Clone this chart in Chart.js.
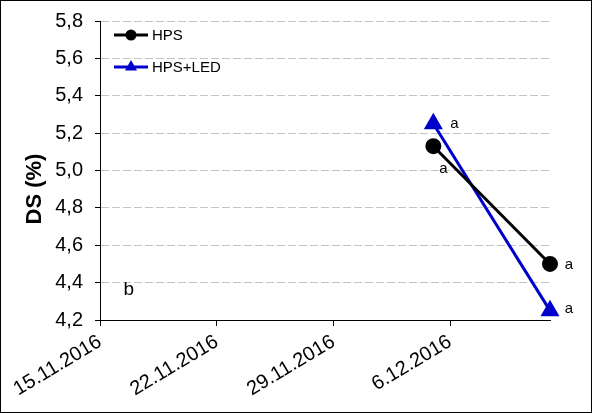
<!DOCTYPE html>
<html>
<head>
<meta charset="utf-8">
<script src="https://cdn.jsdelivr.net/npm/chart.js@4.4.0/dist/chart.umd.min.js"></script>
<style>
  body { margin: 0; background: #fff; }
  #frame { width: 592px; height: 413px; box-sizing: border-box; border: 1px solid #000; background: #fff; }
  canvas { display: block; }
</style>
</head>
<body>
<div id="frame"><canvas id="myChart" width="590" height="411"></canvas></div>
<script>
// sampling dates and measured values
const dates = ['5.12.2016', '12.12.2016'];
const hpsValues = [5.13, 4.50];
const hpsLedValues = [5.25, 4.25];
const hpsLetters = ['a', 'a'];
const hpsLedLetters = ['a', 'a'];

// axis ticks
const xTickLabels = ['15.11.2016', '22.11.2016', '29.11.2016', '6.12.2016'];
const xEndDate = '12.12.2016';
const yMin = 4.2;
const yMax = 5.8;
const yStep = 0.2;

// the lone letter in the lower left corner (date, value)
const extraLetter = { text: 'b', date: '16.11.2016', value: 4.36 };

const FONT = "'Liberation Sans', Arial, sans-serif";

// days since the first tick date
function dayIndex(str) {
  const p = str.split('.').map(Number);
  const first = xTickLabels[0].split('.').map(Number);
  return (Date.UTC(p[2], p[1] - 1, p[0]) - Date.UTC(first[2], first[1] - 1, first[0])) / 86400000;
}

// draws the marker shapes used in the chart and the legend
function drawMarker(ctx, style, x, y, r, color) {
  ctx.fillStyle = color;
  ctx.beginPath();
  if (style === 'triangle') {
    ctx.moveTo(x, y - r);
    ctx.lineTo(x + r * 0.866, y + r / 2);
    ctx.lineTo(x - r * 0.866, y + r / 2);
    ctx.closePath();
  } else {
    ctx.arc(x, y, r, 0, Math.PI * 2);
  }
  ctx.fill();
}

// legend, letters and axis title drawn on top of the chart
const extrasPlugin = {
  id: 'extras',
  afterDatasetsDraw(chart, args, opts) {
    const ctx = chart.ctx;
    ctx.save();

    // letters next to the points
    chart.data.datasets.forEach((ds, i) => {
      const meta = chart.getDatasetMeta(i);
      ctx.font = '15px ' + FONT;
      ctx.fillStyle = '#000';
      ctx.textAlign = 'center';
      ctx.textBaseline = 'middle';
      ds.letters.forEach((t, j) => {
        const pt = meta.data[j];
        const off = opts.letterOffsets[i][j];
        ctx.fillText(t, pt.x + off[0], pt.y + off[1]);
      });
    });

    const xs = chart.scales.x;
    const ys = chart.scales.y;
    ctx.font = '19px ' + FONT;
    ctx.fillText(extraLetter.text, xs.getPixelForValue(dayIndex(extraLetter.date)) + 12, ys.getPixelForValue(extraLetter.value));

    // legend inside the plot
    chart.data.datasets.forEach((ds, i) => {
      const y = opts.legendTop + i * opts.legendRow;
      const x0 = chart.chartArea.left + 14;
      ctx.strokeStyle = ds.borderColor;
      ctx.lineWidth = 3;
      ctx.beginPath();
      ctx.moveTo(x0, y);
      ctx.lineTo(x0 + 34, y);
      ctx.stroke();
      drawMarker(ctx, ds.pointStyle, x0 + 17, y, ds.pointStyle === 'triangle' ? 7 : 5.5, ds.borderColor);
      ctx.fillStyle = '#000';
      ctx.font = '15px ' + FONT;
      ctx.textAlign = 'left';
      ctx.fillText(ds.label, x0 + 38, y + 1);
    });

    // y axis title
    ctx.translate(34, 188);
    ctx.rotate(-Math.PI / 2);
    ctx.font = 'bold 22px ' + FONT;
    ctx.textAlign = 'center';
    ctx.fillText('DS (%)', 0, 0);
    ctx.restore();
  }
};

const chartData = {
  datasets: [
    {
      label: 'HPS',
      data: dates.map((d, i) => ({ x: dayIndex(d), y: hpsValues[i] })),
      letters: hpsLetters,
      borderColor: '#000000',
      backgroundColor: '#000000',
      borderWidth: 3,
      pointStyle: 'circle',
      pointRadius: 6.5,
      pointHoverRadius: 6.5,
      clip: false
    },
    {
      label: 'HPS+LED',
      data: dates.map((d, i) => ({ x: dayIndex(d), y: hpsLedValues[i] })),
      letters: hpsLedLetters,
      borderColor: '#0000cc',
      backgroundColor: '#0000cc',
      borderWidth: 3,
      pointStyle: 'triangle',
      pointRadius: 8,
      pointHoverRadius: 8,
      clip: false
    }
  ]
};

const config = {
  type: 'line',
  data: chartData,
  options: {
    responsive: false,
    animation: false,
    layout: { padding: { left: 0, right: 41, top: 20, bottom: 0 } },
    plugins: {
      legend: { display: false },
      tooltip: { enabled: false },
      extras: {
        letterOffsets: [[[10, 23], [19, 1]], [[21, 0], [19, -2]]],
        legendTop: 34,
        legendRow: 32
      }
    },
    scales: {
      x: {
        type: 'linear',
        min: 0,
        max: dayIndex(xEndDate),
        afterBuildTicks: scale => {
          scale.ticks = xTickLabels.map(l => ({ value: dayIndex(l) }));
        },
        afterFit: scale => { scale.height = 92; },
        ticks: {
          callback: (v, i) => xTickLabels[i],
          minRotation: 31,
          maxRotation: 31,
          color: '#000',
          font: { family: FONT, size: 20 },
          padding: 4
        },
        grid: { drawOnChartArea: false, tickColor: '#000', tickLength: 6 },
        border: { color: '#000', width: 1 }
      },
      y: {
        min: yMin,
        max: yMax,
        afterFit: scale => {
          scale.width = 99;
          scale.paddingTop = 0;
          scale.paddingBottom = 0;
        },
        ticks: {
          stepSize: yStep,
          callback: v => v.toFixed(1).replace('.', ','),
          color: '#000',
          font: { family: FONT, size: 20 },
          padding: 12
        },
        grid: {
          color: c => (c.index === 0 ? 'rgba(0,0,0,0)' : '#c4c4c4'),
          tickColor: '#000',
          tickLength: 5
        },
        border: { color: '#000', width: 1, dash: [8, 3] }
      }
    }
  },
  plugins: [extrasPlugin]
};

let myChart = new Chart(document.getElementById('myChart'), config);
</script>
</body>
</html>
